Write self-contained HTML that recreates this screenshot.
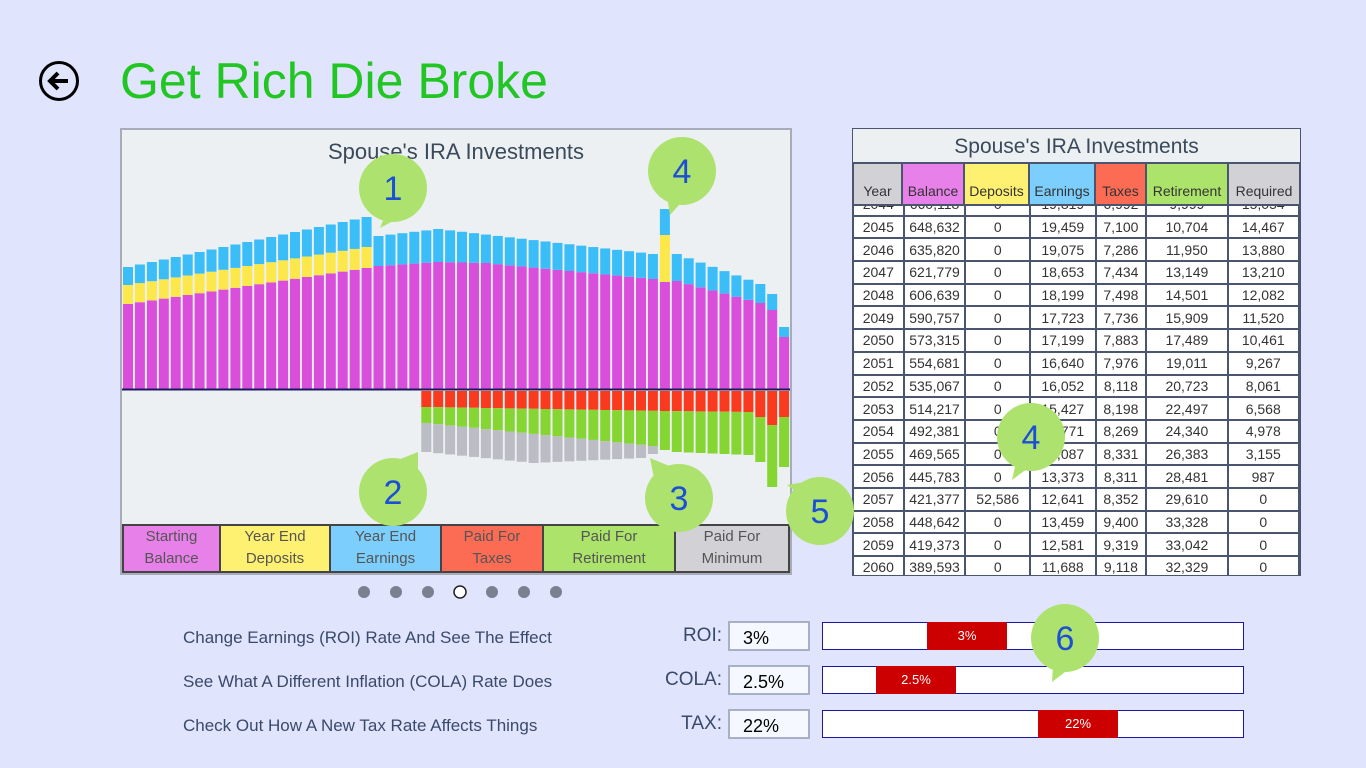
<!DOCTYPE html>
<html><head><meta charset="utf-8"><style>
*{margin:0;padding:0;box-sizing:border-box}
body{width:1366px;height:768px;background:#e0e4fc;font-family:"Liberation Sans",sans-serif;position:relative;overflow:hidden}
.abs{position:absolute}
.title{left:120px;top:52px;font-size:50px;color:#22c622}
table{border-collapse:collapse}
td{border:2px solid #4a5670;font-size:14px;color:#333;text-align:center;height:22.7px;padding:0;background:#fff}
.row{position:absolute;left:183px;font-size:17px;color:#3a4a6a}
.inp{position:absolute;left:728px;width:82px;height:30px;border:2px solid #a8b0c8;background:#f6f8ff;font-size:18px;padding:5px 0 0 13px;color:#000}
.pl{position:absolute;width:80px;text-align:right;left:642px;font-size:19px;color:#3a4a6a}
.trk{position:absolute;left:822px;width:422px;height:28px;border:1px solid #1a1aa0;background:#fff}
.th{position:absolute;top:-1px;width:80px;height:28px;background:#cc0000;color:#fff;font-size:13px;text-align:center;line-height:28px;border-radius:2px}
</style></head><body>
<svg class="abs" style="left:38px;top:60px" width="42" height="42"><circle cx="21" cy="21" r="18.5" fill="none" stroke="#000" stroke-width="3"/><path d="M30 21H13M20 13l-8 8 8 8" fill="none" stroke="#000" stroke-width="4"/></svg>
<div class="abs title">Get Rich Die Broke</div>
<div class="abs" style="left:120px;top:128px;width:672px;height:447px;background:#ecf0f2;border:2px solid #a8acb8"></div>
<div class="abs" style="left:120px;top:139px;width:672px;text-align:center;font-size:22px;color:#3a4a5a">Spouse's IRA Investments</div>
<svg id="ch" class="abs" style="left:0;top:0" width="800" height="600"></svg>
<div class="abs" style="left:122px;top:524px;width:668px;height:49px;display:flex;border:2px solid #444;font-size:15px;color:#555;text-align:center;line-height:22px">
<div style="width:97px;background:#e780e8;border-right:2px solid #444">Starting<br>Balance</div>
<div style="width:110px;background:#fef171;border-right:2px solid #444">Year End<br>Deposits</div>
<div style="width:111px;background:#7ccefc;border-right:2px solid #444">Year End<br>Earnings</div>
<div style="width:102px;background:#fc6c55;border-right:2px solid #444">Paid For<br>Taxes</div>
<div style="width:132px;background:#ace36a;border-right:2px solid #444">Paid For<br>Retirement</div>
<div style="flex:1;background:#d2d2d6">Paid For<br>Minimum</div></div>
<svg class="abs" style="left:350px;top:582px" width="220" height="20">
<circle cx="14" cy="10" r="6" fill="#7a8090"/><circle cx="46" cy="10" r="6" fill="#7a8090"/><circle cx="78" cy="10" r="6" fill="#7a8090"/><circle cx="110" cy="10" r="6" fill="#fff" stroke="#222" stroke-width="1.5"/><circle cx="142" cy="10" r="6" fill="#7a8090"/><circle cx="174" cy="10" r="6" fill="#7a8090"/><circle cx="206" cy="10" r="6" fill="#7a8090"/></svg>
<div class="abs" style="left:852px;top:128px;width:449px;height:448px;background:#ecf0f2;border:1px solid #4a5670;overflow:hidden">
<div style="height:33px;text-align:center;font-size:21px;color:#3a4a5a;padding-top:6px">Spouse's IRA Investments</div>
<div style="position:absolute;top:63px;left:-1px"><table id="tb"></table></div>
<div style="position:absolute;top:33px;left:-1px;display:flex;height:44px;font-size:14px;color:#333;line-height:54px;text-align:center">
<div style="width:51px;background:#d2d2d6;border:2px solid #4a5670">Year</div>
<div style="width:62px;background:#e780e8;border:2px solid #4a5670;border-left:0">Balance</div>
<div style="width:65px;background:#fef171;border:2px solid #4a5670;border-left:0">Deposits</div>
<div style="width:66px;background:#7ccefc;border:2px solid #4a5670;border-left:0">Earnings</div>
<div style="width:51px;background:#fc6c55;border:2px solid #4a5670;border-left:0">Taxes</div>
<div style="width:82px;background:#ace36a;border:2px solid #4a5670;border-left:0">Retirement</div>
<div style="width:72px;background:#d2d2d6;border:2px solid #4a5670;border-left:0">Required</div></div>
</div>
<div class="row" style="top:628px">Change Earnings (ROI) Rate And See The Effect</div>
<div class="row" style="top:672px">See What A Different Inflation (COLA) Rate Does</div>
<div class="row" style="top:716px">Check Out How A New Tax Rate Affects Things</div>
<div class="pl" style="top:625px">ROI:</div><div class="pl" style="top:669px">COLA:</div><div class="pl" style="top:713px">TAX:</div>
<div class="inp" style="top:621px">3%</div><div class="inp" style="top:665px">2.5%</div><div class="inp" style="top:709px">22%</div>
<div class="trk" style="top:622px"><div class="th" style="left:104px">3%</div></div>
<div class="trk" style="top:666px"><div class="th" style="left:53px">2.5%</div></div>
<div class="trk" style="top:710px"><div class="th" style="left:215px">22%</div></div>
<svg class="abs" style="left:0;top:0" width="1366" height="768" id="bb"></svg>
<script>
function L(p,i){for(var k=0;k<p.length-1;k++){if(i<=p[k+1][0]){var a=p[k],b=p[k+1];return a[1]+(b[1]-a[1])*(i-a[0])/(b[0]-a[0]);}}return p[p.length-1][1];}
var M=[[0,304],[20,268],[21,266],[26,262],[30,263],[44,279],[45,282],[46,281],[53,303],[54,310],[55,337]];
var B=[[21,236],[26,229],[44,254],[46,254],[53,284],[54,294],[55,327]];
var R=[[25,407],[45,411],[52,412],[53,417],[54,425],[55,417]];
var G=[[25,423],[44,446],[45,450],[46,452],[52,455],[53,462],[54,487],[55,467]];
var Y=[[25,452],[34,463],[43,458],[44,454]];
var s='';function r(x,y1,y2,c){s+='<rect x="'+x.toFixed(1)+'" y="'+y1+'" width="10" height="'+(y2-y1)+'" fill="'+c+'"/>';}
for(var i=0;i<56;i++){var x=123+i*11.93,m=L(M,i);r(x,m,389,'#d94fdc');
if(i<=20){var yh=19+i*0.1,bh=18+i*0.6;r(x,m-yh,m,'#fde84c');r(x,m-yh-bh,m-yh,'#3bbdf8');}
else if(i==45){r(x,235,m,'#fde84c');r(x,209,235,'#3bbdf8');}
else r(x,L(B,i),m,'#3bbdf8');
if(i>=25){var rb=L(R,i),gb=L(G,i);r(x,391,rb,'#fa3a1e');r(x,rb,gb,'#86d633');if(i<=44)r(x,gb,L(Y,i),'#bcbcc4');}}
s+='<line x1="122" y1="389.5" x2="790" y2="389.5" stroke="#1a1a60" stroke-width="2"/>';
document.getElementById('ch').innerHTML=s;
var d=[[2044,"660,118","0","19,819","6,992","9,999","15,054"],[2045,"648,632","0","19,459","7,100","10,704","14,467"],[2046,"635,820","0","19,075","7,286","11,950","13,880"],[2047,"621,779","0","18,653","7,434","13,149","13,210"],[2048,"606,639","0","18,199","7,498","14,501","12,082"],[2049,"590,757","0","17,723","7,736","15,909","11,520"],[2050,"573,315","0","17,199","7,883","17,489","10,461"],[2051,"554,681","0","16,640","7,976","19,011","9,267"],[2052,"535,067","0","16,052","8,118","20,723","8,061"],[2053,"514,217","0","15,427","8,198","22,497","6,568"],[2054,"492,381","0","14,771","8,269","24,340","4,978"],[2055,"469,565","0","14,087","8,331","26,383","3,155"],[2056,"445,783","0","13,373","8,311","28,481","987"],[2057,"421,377","52,586","12,641","8,352","29,610","0"],[2058,"448,642","0","13,459","9,400","33,328","0"],[2059,"419,373","0","12,581","9,319","33,042","0"],[2060,"389,593","0","11,688","9,118","32,329","0"]];
var w=[51,62,65,66,51,82,72],t='';
d.forEach(function(a){t+='<tr>';a.forEach(function(v,j){t+='<td style="width:'+w[j]+'px">'+v+'</td>';});t+='</tr>';});
document.getElementById('tb').innerHTML=t;
var q='';function bub(cx,cy,n,tx,ty,a1,a2){q+='<path d="M'+(cx+a1[0])+' '+(cy+a1[1])+'L'+tx+' '+ty+'L'+(cx+a2[0])+' '+(cy+a2[1])+'Z" fill="#ade26f"/><circle cx="'+cx+'" cy="'+cy+'" r="34" fill="#ade26f"/><text x="'+cx+'" y="'+(cy+12)+'" font-size="34" fill="#1c4fd6" text-anchor="middle" font-family="Liberation Sans">'+n+'</text>';}
bub(393,188,1,380,228,[-5,20],[15,25]);
bub(682,171,4,670,215,[-15,25],[5,25]);
bub(393,492,2,418,452,[0,-30],[25,-15]);
bub(679,498,3,650,458,[-25,-20],[-5,-30]);
bub(1031,437,4,1012,480,[-15,25],[5,25]);
bub(820,511,5,787,485,[-25,-20],[-10,-30]);
bub(1065,638,6,1052,682,[-12,28],[8,28]);
document.getElementById('bb').innerHTML=q;
</script>
</body></html>
